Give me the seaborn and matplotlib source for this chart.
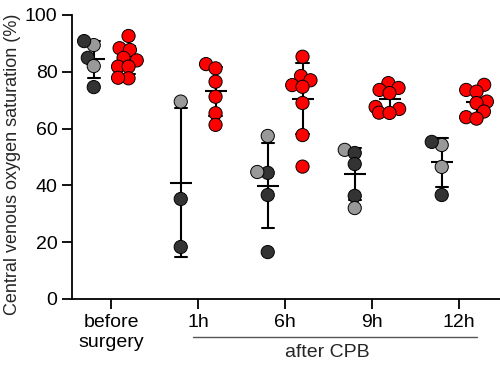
import numpy as np
import pandas as pd
import matplotlib
matplotlib.use("Agg")
import matplotlib.pyplot as plt
import seaborn as sns

time_labels = ["before\nsurgery", "1h", "6h", "9h", "12h"]

# grey/black group, values per time point
ctrl_values = [
    [89.4, 90.8, 84.9, 82.0, 74.6],
    [69.5, 35.2, 18.3],
    [57.4, 44.4, 44.7, 36.6, 16.5],
    [52.5, 51.4, 47.5, 36.3, 32.0],
    [54.2, 55.3, 46.5, 36.6],
]
ctrl_shades = [
    ["gray", "dark", "dark", "gray", "dark"],
    ["gray", "dark", "dark"],
    ["gray", "dark", "gray", "dark", "dark"],
    ["gray", "dark", "dark", "dark", "gray"],
    ["gray", "dark", "gray", "dark"],
]

# red group
red_values = [
    [92.6, 88.3, 87.7, 84.9, 84.0, 81.8, 81.8, 77.7, 77.9],
    [82.7, 81.2, 76.5, 71.2, 65.4, 61.3],
    [85.3, 78.5, 77.0, 75.3, 74.7, 69.0, 57.7, 46.6],
    [76.0, 74.3, 73.6, 72.5, 67.6, 66.9, 65.6, 65.5],
    [75.4, 73.6, 73.0, 69.5, 69.0, 66.0, 64.0, 63.5],
]

shade_colors = {"dark": "#333333", "gray": "#999999", "red": "#ff0000"}

rows = []
for i in range(len(time_labels)):
    for v, s in zip(ctrl_values[i], ctrl_shades[i]):
        rows.append({"pos": i - 0.2, "value": v, "shade": s})
    for v in red_values[i]:
        rows.append({"pos": i + 0.2, "value": v, "shade": "red"})
df = pd.DataFrame(rows)

sns.set_style("ticks")
plt.rcParams["font.family"] = ["Liberation Sans", "DejaVu Sans"]

fig = plt.figure(figsize=(5, 3.65), dpi=100)
ax = fig.add_axes([0.144, 0.181, 0.856, 0.778])

# swarm laid out with small markers, then markers enlarged so they overlap
sns.swarmplot(data=df, x="pos", y="value", hue="shade", palette=shade_colors,
              native_scale=True, orient="x", size=6.5, edgecolor="black",
              linewidth=0.7, legend=False, ax=ax)

sns.pointplot(data=df, x="pos", y="value", native_scale=True, orient="x",
              errorbar="sd", capsize=0.35, color="black", marker="_",
              markersize=16, markeredgewidth=1.5, linestyle="none",
              err_kws={"linewidth": 1.5}, ax=ax)

ax.set_xlim(-0.45, 4.47)
ax.set_ylim(0, 100)
ax.set_yticks([0, 20, 40, 60, 80, 100])
ax.set_xticks(range(len(time_labels)))
ax.set_xticklabels(time_labels, linespacing=1.3)
ax.set_xlabel("")
ax.set_ylabel("Central venous oxygen saturation (%)", fontsize=13)
ax.yaxis.set_label_coords(-0.118, 0.475)
ax.tick_params(length=7, width=1.3, labelsize=14, colors="black")
for side in ["top", "right"]:
    ax.spines[side].set_visible(False)
for side in ["left", "bottom"]:
    ax.spines[side].set_linewidth(1.3)
    ax.spines[side].set_color("black")

trans = ax.get_xaxis_transform()
ax.plot([0.94, 4.2], [-0.133, -0.133], transform=trans, clip_on=False,
        color="#555555", lw=1)
ax.text(2.48, -0.19, "after CPB", transform=trans, ha="center", va="center",
        fontsize=14)

fig.canvas.draw()
for coll in ax.collections:
    if "draw" in coll.__dict__:
        del coll.draw
    coll.set_sizes([9.5 ** 2])

fig.savefig("out.png", dpi=100)
